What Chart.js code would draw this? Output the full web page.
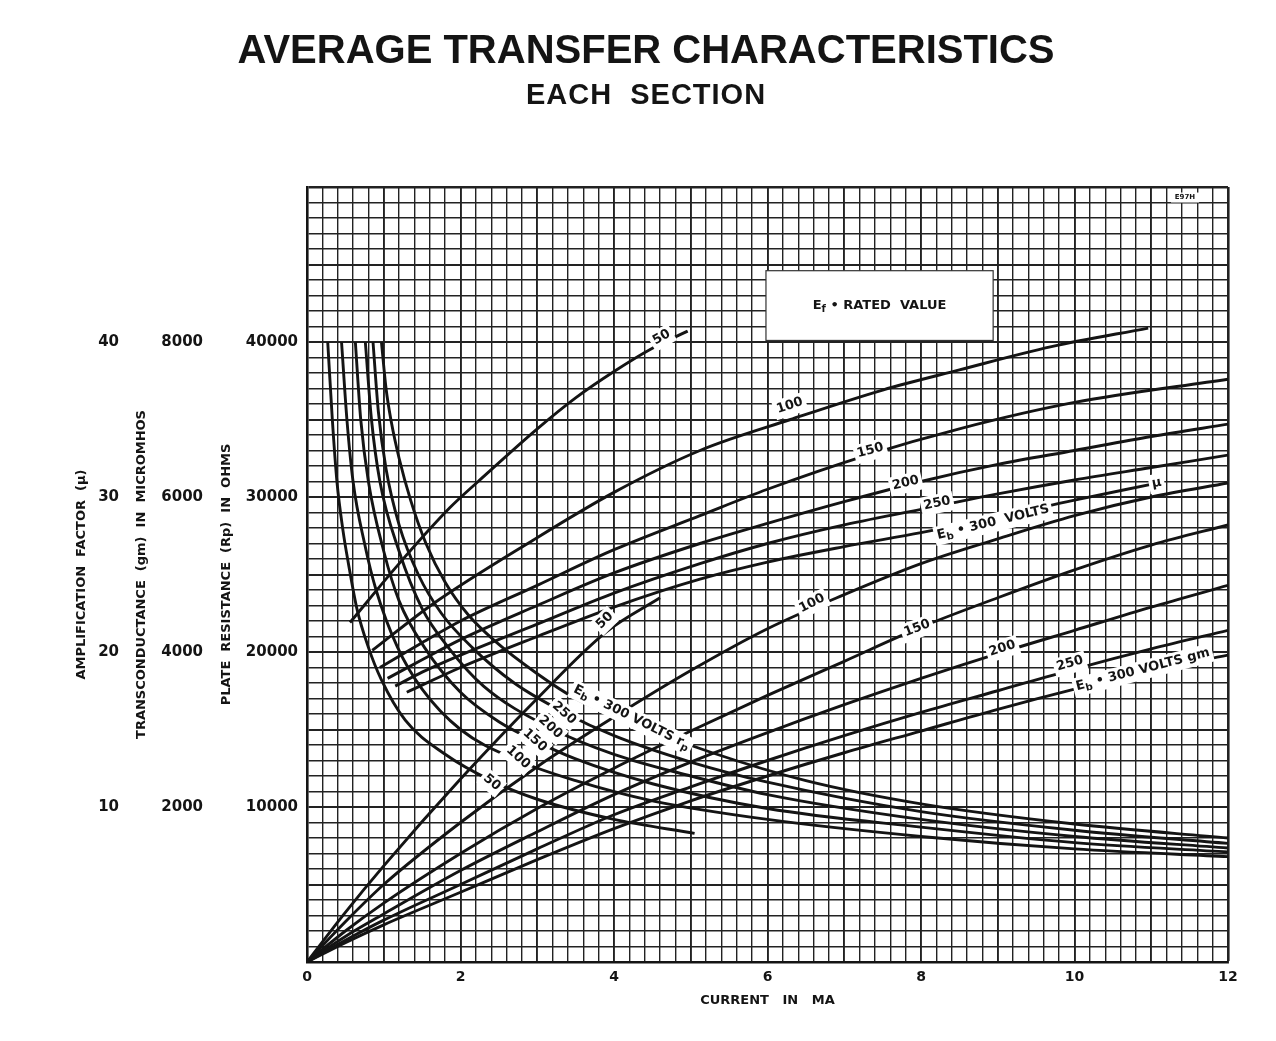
<!DOCTYPE html>
<html>
<head>
<meta charset="utf-8">
<script src="https://cdn.jsdelivr.net/npm/chart.js@4.4.1/dist/chart.umd.min.js"></script>
<style>
html, body { margin: 0; padding: 0; background: #fff; overflow: hidden; }
canvas { display: block; }
</style>
</head>
<body>
<canvas id="myChart" width="1276" height="1041"></canvas>
<script>
// tick labels for the three left scales and the current axis
var rpTicks = [10000, 20000, 30000, 40000];
var gmTicks = [2000, 4000, 6000, 8000];
var muTicks = [10, 20, 30, 40];
var currentTicks = [0, 2, 4, 6, 8, 10, 12];

// plate resistance (ohms) vs current (mA), one array per plate voltage
var rp50 = [[0.27,40000],[0.33,35000],[0.39,31000],[0.47,27800],[0.54,25700],[0.65,22800],[0.8,20300],[0.97,18200],[1.28,15600],[1.8,13400],[2.4,11700],[3.0,10500],[4.0,9200],[5.05,8300]];
var rp100 = [[0.45,40000],[0.52,35000],[0.6,31000],[0.75,27000],[0.9,24000],[1.18,20300],[1.5,17600],[2.0,15000],[2.75,13000],[3.5,11700],[4.5,10400],[6,9200],[8,8100],[10,7300],[12,6800]];
var rp150 = [[0.63,40000],[0.7,35000],[0.8,31000],[1.0,26500],[1.2,23300],[1.53,20300],[2.0,17400],[2.5,15500],[3.0,14200],[3.5,13100],[4.5,11500],[6,9900],[8,8700],[10,7700],[12,7100]];
var rp200 = [[0.76,40000],[0.84,35000],[0.95,31000],[1.2,26500],[1.5,22800],[1.84,20300],[2.3,17800],[3.15,15150],[4,13400],[5,12000],[6,10800],[8,9200],[10,8100],[12,7350]];
var rp250 = [[0.86,40000],[0.93,35500],[1.03,31800],[1.2,28200],[1.45,25000],[1.75,22500],[2.15,20300],[2.7,18000],[3.35,16100],[4,14600],[5,12900],[6,11600],[8,9700],[10,8500],[12,7650]];
var rp300 = [[0.97,40000],[1.03,37000],[1.1,34800],[1.2,32500],[1.35,29800],[1.55,27000],[1.8,24500],[2.1,22400],[2.45,20700],[3.0,18600],[3.5,17000],[4.2,15500],[5.28,13500],[6.5,11700],[8,10200],[10,8900],[12,8000]];

// amplification factor, plotted on the rp scale (mu x 1000)
var mu50 = [[0.56,21900],[1.2,25700],[1.86,29300],[2.23,31000],[3.0,34400],[3.5,36400],[4.0,38100],[4.5,39600],[4.96,40700]];
var mu100 = [[0.85,20100],[1.64,23100],[2.94,27200],[4,30300],[5.12,33000],[6.3,35000],[7.5,36900],[8.5,38200],[9.7,39700],[10.96,40900]];
var mu150 = [[0.95,19000],[1.5,20600],[2,22000],[3,24300],[4,26600],[5.12,28800],[6,30500],[7.3,32700],[8.5,34400],[10,36100],[12,37600]];
var mu200 = [[1.05,18300],[1.5,19500],[2,20800],[3,23000],[4,25100],[5.12,27000],[6,28300],[7,29700],[8,31000],[9,32100],[10,33000],[11,33900],[12,34700]];
var mu250 = [[1.15,17800],[1.5,18700],[2,19800],[3,21800],[4,23800],[5.12,25700],[6,27000],[7,28200],[8.2,29400],[9,30200],[10,31100],[11,31900],[12,32700]];
var mu300 = [[1.3,17400],[2,19000],[3,21000],[4,22900],[5.12,24700],[6,25800],[7,26800],[8,27700],[9,28700],[10,29800],[10.98,30800]];

// transconductance, plotted on the rp scale (gm x 5)
var gm50 = [[0,0],[0.5,3200],[1,6200],[2,11800],[3,17000],[3.9,21300],[4.6,23500]];
var gm100 = [[0,0],[0.5,2600],[1,5000],[2,9000],[3,12600],[4,15800],[5,18800],[6,21500],[7,23700],[8,25700],[9,27300],[10,28800],[11,30000],[12,30900]];
var gm150 = [[0,0],[0.5,2000],[1,3800],[2,7000],[3,9900],[4,12500],[5,14900],[6,17200],[7,19400],[8,21600],[9,23500],[10,25300],[11,26900],[12,28200]];
var gm200 = [[0,0],[0.5,1650],[1,3100],[2,5900],[3,8400],[4,10800],[5,12900],[6,14800],[7,16600],[8,18300],[9,19900],[10,21400],[11,22900],[12,24300]];
var gm250 = [[0,0],[0.5,1400],[1,2700],[2,5000],[3,7300],[4,9500],[5,11300],[6,13000],[7,14600],[8,16100],[9,17500],[10,18900],[11,20200],[12,21400]];
var gm300 = [[0,0],[0.5,1250],[1,2400],[2,4500],[3,6600],[4,8600],[5,10400],[6,12000],[7,13500],[8,14900],[9,16300],[10,17600],[11,18800],[12,19800]];

var curves = [rp50, rp100, rp150, rp200, rp250, rp300,
              mu50, mu100, mu150, mu200, mu250, mu300,
              gm50, gm100, gm150, gm200, gm250, gm300];

// labels written on the curves (data coordinates, rotation in degrees)
var curveTags = [
    {parts: [['50']], x: 4.62, y: 40300, rot: -30},
    {parts: [['100']], x: 6.29, y: 35900, rot: -18},
    {parts: [['150']], x: 7.34, y: 33000, rot: -15},
    {parts: [['200']], x: 7.80, y: 30900, rot: -13},
    {parts: [['250']], x: 8.21, y: 29590, rot: -12},
    {parts: [['E'], ['b', 1], [' \u2022 300  VOLTS']], x: 8.94, y: 28370, rot: -13.5},
    {parts: [['\u03bc']], x: 11.07, y: 30900, rot: -10},

    {parts: [['50']], x: 3.88, y: 22030, rot: -45},
    {parts: [['100']], x: 6.58, y: 23140, rot: -27},
    {parts: [['150']], x: 7.95, y: 21530, rot: -21},
    {parts: [['200']], x: 9.06, y: 20230, rot: -18},
    {parts: [['250']], x: 9.94, y: 19250, rot: -16},
    {parts: [['E'], ['b', 1], [' \u2022 300 VOLTS gm']], x: 10.89, y: 18860, rot: -14.5},

    {parts: [['50']], x: 2.41, y: 11590, rot: 40},
    {parts: [['100']], x: 2.75, y: 13200, rot: 42},
    {parts: [['150']], x: 2.97, y: 14300, rot: 42},
    {parts: [['200']], x: 3.17, y: 15150, rot: 42},
    {parts: [['250']], x: 3.35, y: 16060, rot: 42},
    {parts: [['E'], ['b', 1], [' \u2022 300 VOLTS r'], ['p', 1]], x: 4.23, y: 15780, rot: 26.6}
];

var FONT = 'DejaVu Sans';
var INK = '#141414';

function nearInt(v) {
    return Math.abs(v - Math.round(v)) < 1e-6;
}

function drawParts(ctx, parts, size, cx, cy) {
    var w = 0;
    parts.forEach(function(p) {
        ctx.font = 'bold ' + (p[1] ? size - 3 : size) + 'px "' + FONT + '"';
        w += ctx.measureText(p[0]).width;
    });
    var x = cx - w / 2;
    ctx.textAlign = 'left';
    ctx.textBaseline = 'middle';
    parts.forEach(function(p) {
        ctx.font = 'bold ' + (p[1] ? size - 3 : size) + 'px "' + FONT + '"';
        ctx.fillText(p[0], x, p[1] ? cy + 4 : cy);
        x += ctx.measureText(p[0]).width;
    });
    return w;
}

var decor = {
    id: 'decor',
    beforeDraw: function(chart) {
        var ctx = chart.ctx;
        ctx.save();
        ctx.fillStyle = '#fff';
        ctx.fillRect(0, 0, chart.width, chart.height);
        ctx.restore();
    },
    beforeDatasetsDraw: function(chart) {
        var ctx = chart.ctx, xs = chart.scales.x, ys = chart.scales.y;
        // Ef = RATED VALUE box
        var x0 = xs.getPixelForValue(5.98), x1 = xs.getPixelForValue(8.94);
        var y0 = ys.getPixelForValue(44600), y1 = ys.getPixelForValue(40100);
        ctx.save();
        ctx.fillStyle = '#fff';
        ctx.fillRect(x0, y0, x1 - x0, y1 - y0);
        ctx.strokeStyle = '#333';
        ctx.lineWidth = 1.2;
        ctx.strokeRect(x0, y0, x1 - x0, y1 - y0);
        ctx.fillStyle = INK;
        drawParts(ctx, [['E'], ['f', 1], [' \u2022 RATED  VALUE']], 13, (x0 + x1) / 2, (y0 + y1) / 2);
        // drawing number stamp
        var sx = xs.getPixelForValue(11.44), sy = ys.getPixelForValue(49320);
        ctx.fillStyle = '#fff';
        ctx.fillRect(sx - 14, sy - 5, 28, 10);
        ctx.fillStyle = INK;
        ctx.font = 'bold 7px "' + FONT + '"';
        ctx.textAlign = 'center';
        ctx.textBaseline = 'middle';
        ctx.fillText('E97H', sx, sy);
        ctx.restore();
    },
    afterDatasetsDraw: function(chart) {
        var ctx = chart.ctx, xs = chart.scales.x, ys = chart.scales.y;
        curveTags.forEach(function(tag) {
            var px = xs.getPixelForValue(tag.x), py = ys.getPixelForValue(tag.y);
            ctx.save();
            ctx.translate(px, py);
            ctx.rotate(tag.rot * Math.PI / 180);
            var w = 0;
            tag.parts.forEach(function(p) {
                ctx.font = 'bold ' + (p[1] ? 10 : 13) + 'px "' + FONT + '"';
                w += ctx.measureText(p[0]).width;
            });
            ctx.fillStyle = '#fff';
            ctx.fillRect(-w / 2 - 3, -9, w + 6, 19);
            ctx.fillStyle = INK;
            drawParts(ctx, tag.parts, 13, 0, 0);
            ctx.restore();
        });
    },
    afterDraw: function(chart) {
        var ctx = chart.ctx;
        ctx.save();
        ctx.fillStyle = INK;
        ctx.textAlign = 'center';
        ctx.textBaseline = 'middle';
        ctx.font = 'bold 40px "Liberation Sans"';
        ctx.fillText('AVERAGE TRANSFER CHARACTERISTICS', 646, 52);
        ctx.font = 'bold 29px "Liberation Sans"';
        ctx.letterSpacing = '1px';
        ctx.fillText('EACH  SECTION', 646, 96);
        ctx.restore();
    }
};

var tickFont = {family: FONT, weight: 'bold', size: 15};
var titleFont = {family: FONT, weight: 'bold', size: 13};

var ctx = document.getElementById('myChart');
var myChart = new Chart(ctx, {
    type: 'line',
    data: {
        datasets: curves.map(function(c) {
            return {
                data: c.map(function(p) { return {x: p[0], y: p[1]}; }),
                borderColor: INK,
                borderWidth: 2.9,
                pointRadius: 0,
                fill: false,
                cubicInterpolationMode: 'monotone'
            };
        })
    },
    options: {
        responsive: false,
        animation: false,
        events: [],
        layout: {padding: {left: 74, right: 48, top: 187, bottom: 29}},
        plugins: {legend: {display: false}, tooltip: {enabled: false}},
        scales: {
            x: {
                type: 'linear', position: 'bottom', min: 0, max: 12,
                ticks: {
                    stepSize: 0.2, autoSkip: false, maxRotation: 0, padding: 7,
                    color: INK, font: {family: FONT, weight: 'bold', size: 14},
                    callback: function(v) {
                        return nearInt(v) && currentTicks.indexOf(Math.round(v)) >= 0 ? String(Math.round(v)) : '';
                    }
                },
                grid: {
                    drawTicks: false, color: '#222',
                    lineWidth: function(c) {
                        var v = c.tick ? c.tick.value : 0;
                        if (Math.abs(v - 12) < 1e-6) return 2.6;
                        return nearInt(v) ? 1.9 : 1.4;
                    }
                },
                border: {display: true, color: INK, width: 2.6},
                title: {display: true, text: 'CURRENT   IN   MA', color: INK, font: titleFont, padding: {top: 0, bottom: 4}},
                afterFit: function(s) { s.height = 50; }
            },
            y: {
                type: 'linear', position: 'left', weight: 0, min: 0, max: 50000,
                ticks: {
                    stepSize: 1000, autoSkip: false, padding: 9, color: INK, font: tickFont,
                    callback: function(v) { return rpTicks.indexOf(v) >= 0 ? String(v) : ''; }
                },
                grid: {
                    drawTicks: false, color: '#222',
                    lineWidth: function(c) {
                        var v = c.tick ? c.tick.value : 0;
                        if (v === 50000) return 2.6;
                        return v % 5000 === 0 ? 1.9 : 1.4;
                    }
                },
                border: {display: true, color: INK, width: 2.6},
                title: {display: true, text: 'PLATE  RESISTANCE  (Rp)  IN  OHMS', color: INK, font: titleFont, padding: {top: 12}},
                afterFit: function(s) { s.width = 100; }
            },
            yGm: {
                type: 'linear', position: 'left', weight: 1, min: 0, max: 10000,
                ticks: {
                    stepSize: 2000, autoSkip: false, padding: 4, color: INK, font: tickFont,
                    callback: function(v) { return gmTicks.indexOf(v) >= 0 ? String(v) : ''; }
                },
                grid: {display: false, drawTicks: false},
                border: {display: false},
                title: {display: true, text: 'TRANSCONDUCTANCE  (gm)  IN  MICROMHOS', color: INK, font: titleFont, padding: {top: 11}},
                afterFit: function(s) { s.width = 84; }
            },
            yMu: {
                type: 'linear', position: 'left', weight: 2, min: 0, max: 50,
                ticks: {
                    stepSize: 10, autoSkip: false, padding: 4, color: INK, font: tickFont,
                    callback: function(v) { return muTicks.indexOf(v) >= 0 ? String(v) : ''; }
                },
                grid: {display: false, drawTicks: false},
                border: {display: false},
                title: {display: true, text: 'AMPLIFICATION  FACTOR  (\u03bc)', color: INK, font: titleFont, padding: {top: 0}},
                afterFit: function(s) { s.width = 49; }
            }
        }
    },
    plugins: [decor]
});
</script>
</body>
</html>
